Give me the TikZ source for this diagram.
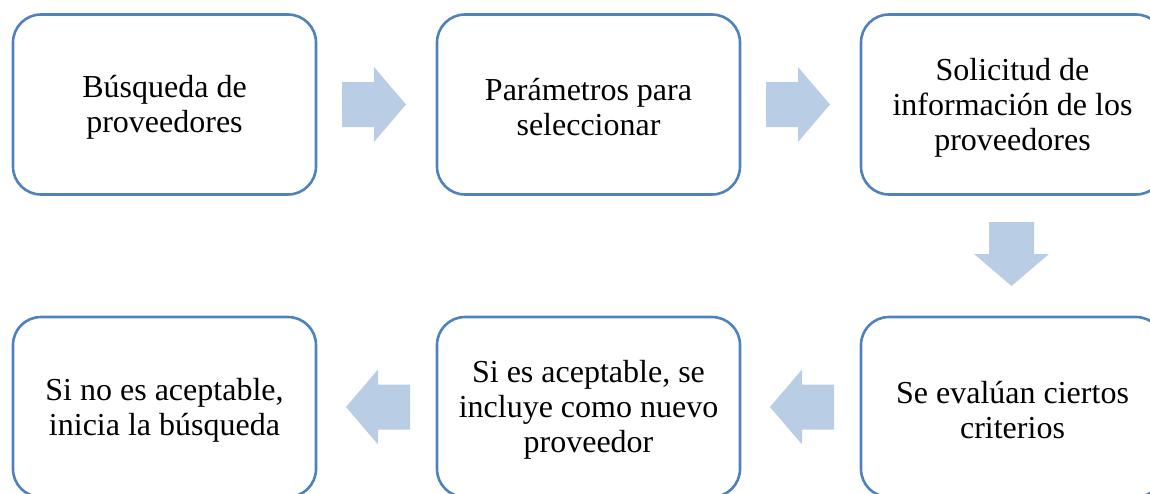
\documentclass[tikz,border=0pt]{standalone}
\usepackage{fontspec}
\setmainfont{Liberation Serif}
\definecolor{boxline}{RGB}{79,129,189}
\definecolor{arrowfill}{RGB}{185,205,229}
\tikzset{
  stepbox/.style={draw=boxline, line width=2.6pt, rounded corners=28pt, fill=white,
    minimum width=303pt, minimum height=180pt, align=center, inner sep=4pt,
    font=\fontsize{32}{35}\selectfont},
  boxtext/.style={align=center, font=\fontsize{32}{35}\selectfont},
  blockarrow/.pic={\fill[arrowfill] (-32,-22.5) -- (0,-22.5) -- (0,-37.5) -- (32,0) -- (0,37.5) -- (0,22.5) -- (-32,22.5) -- cycle;}
}
\begin{document}
\begin{tikzpicture}[x=1pt,y=-1pt]
\useasboundingbox (0,0) rectangle (1150,493);
\node[stepbox] (b1) at (164.5,104.5) {};
\node[stepbox] (b2) at (588.5,104.5) {};
\node[stepbox] (b3) at (1012.5,104.5) {};
\node[stepbox] (b6) at (164.5,407) {};
\node[stepbox] (b5) at (588.5,407) {};
\node[stepbox] (b4) at (1012.5,407) {};
\node[boxtext] (t1) at ([yshift=-3pt]b1.center) {Búsqueda de\\proveedores};
\node[boxtext] (t2) at ([yshift=-3pt]b2.center) {Parámetros para\\seleccionar};
\node[boxtext] (t3) at ([yshift=-3pt]b3.center) {Solicitud de\\información de los\\proveedores};
\node[boxtext] (t6) at ([yshift=-3pt]b6.center) {Si no es aceptable,\\inicia la búsqueda};
\node[boxtext] (t5) at ([yshift=-3pt]b5.center) {Si es aceptable, se\\incluye como nuevo\\proveedor};
\node[boxtext] (t4) at ([yshift=-3pt]b4.center) {Se evalúan ciertos\\criterios};
\pic at (374,104.5) {blockarrow};
\pic at (798,104.5) {blockarrow};
\pic[rotate=-90] at (1011.5,254) {blockarrow};
\pic[rotate=180] at (802,407) {blockarrow};
\pic[rotate=180] at (378,407) {blockarrow};
\end{tikzpicture}
\end{document}
